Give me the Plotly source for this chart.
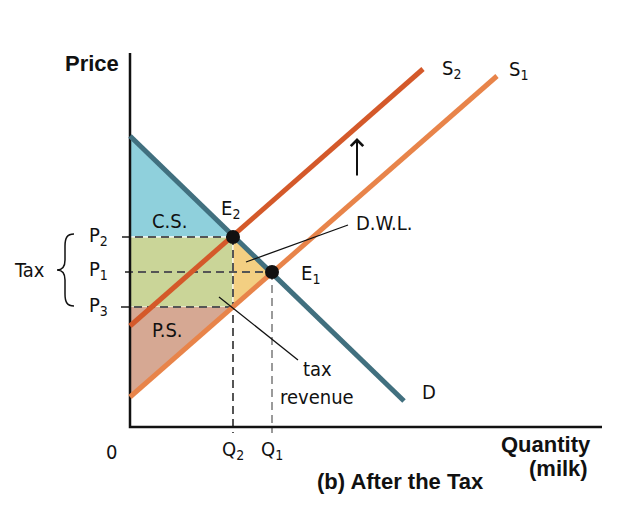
import plotly.graph_objects as go

# curves (quantity, price)
demand_q = [0, 27.4]
demand_p = [29.1, 2.6]
supply1_q = [0, 36.7]
supply1_p = [3.0, 35.1]
supply2_q = [0, 29.3]
supply2_p = [10.1, 35.8]

# equilibrium before / after the tax
q2, q1 = 10.3, 14.2
p2, p1, p3 = 19.0, 15.5, 12.0

x_axis_end = 47.2
y_axis_end = 37.4

cs_color = "#8fd0dc"
tax_color = "#cad598"
dwl_color = "#f3cf82"
ps_color = "#d6a893"
d_color = "#41707f"
s2_color = "#d4592a"
s1_color = "#e8844a"

reg = "DejaVu Sans Condensed, DejaVu Sans, sans-serif"
bold = "Liberation Sans, Arial, sans-serif"

fig = go.Figure()

# shaded areas
areas = [
    ([0, 0, q2], [demand_p[0], p2, p2], cs_color),            # consumer surplus
    ([0, q2, q2, 0], [p2, p2, p3, p3], tax_color),            # tax revenue
    ([q2, q2, q1], [p2, p3, p1], dwl_color),                  # deadweight loss
    ([0, 0, q2], [p3, supply1_p[0], p3], ps_color),           # producer surplus
]
for xs, ys, col in areas:
    fig.add_trace(go.Scatter(x=xs, y=ys, fill="toself", fillcolor=col, mode="lines",
                             line=dict(color="white", width=1), hoverinfo="skip"))

# dashed guide lines
dark = "#555555"
guides = [
    ([-0.8, q2], [p2, p2], dark),
    ([-0.5, q1], [p1, p1], dark),
    ([-0.9, q2], [p3, p3], dark),
    ([q2, q2], [p2, -0.6], dark),
    ([q1, q1], [p1, -0.6], "#9a9a9a"),
]
for xs, ys, col in guides:
    fig.add_trace(go.Scatter(x=xs, y=ys, mode="lines",
                             line=dict(color=col, width=2, dash="8px,5px"), hoverinfo="skip"))

# axes
fig.add_trace(go.Scatter(x=[0, 0, x_axis_end], y=[y_axis_end, 0, 0], mode="lines",
                         line=dict(color="#111111", width=2.5), hoverinfo="skip"))

# curves
fig.add_trace(go.Scatter(x=demand_q, y=demand_p, mode="lines", line=dict(color=d_color, width=5)))
fig.add_trace(go.Scatter(x=supply1_q, y=supply1_p, mode="lines", line=dict(color=s1_color, width=5)))
fig.add_trace(go.Scatter(x=supply2_q, y=supply2_p, mode="lines", line=dict(color=s2_color, width=5)))

# pointer lines
fig.add_trace(go.Scatter(x=[21.8, 11.6], y=[20.2, 16.5], mode="lines",
                         line=dict(color="#111111", width=1.3), hoverinfo="skip"))
fig.add_trace(go.Scatter(x=[8.9, 16.8], y=[13.0, 6.7], mode="lines",
                         line=dict(color="#111111", width=1.3), hoverinfo="skip"))

# equilibrium points
fig.add_trace(go.Scatter(x=[q2, q1], y=[p2, p1], mode="markers",
                         marker=dict(color="#111111", size=14)))

def label(x, y, text, xa="center", ya="middle", size=20, family=reg):
    fig.add_annotation(x=x, y=y, text=text, showarrow=False, xanchor=xa, yanchor=ya,
                       font=dict(family=family, size=size, color="#111111"))

label(-0.9, 36.4, "<b>Price</b>", xa="right", size=22, family=bold)
label(31.0, 35.8, "S<sub>2</sub>", xa="left")
label(37.7, 35.7, "S<sub>1</sub>", xa="left")
label(10.0, 21.8, "E<sub>2</sub>")
label(16.9, 15.3, "E<sub>1</sub>", xa="left")
label(3.9, 20.6, "C.S.")
label(3.7, 9.7, "P.S.")
label(22.4, 20.4, "D.W.L.", xa="left")
label(18.7, 4.4, "tax", ya="bottom")
label(18.7, 4.4, "revenue", ya="top")
label(29.0, 3.5, "D", xa="left")
label(-3.2, 19.1, "P<sub>2</sub>")
label(-3.2, 15.7, "P<sub>1</sub>")
label(-3.2, 12.1, "P<sub>3</sub>")
label(-10.1, 15.7, "Tax")
label(-1.9, -2.5, "0")
label(q2, -2.3, "Q<sub>2</sub>")
label(q1, -2.3, "Q<sub>1</sub>")
label(46.3, -1.7, "<b>Quantity</b>", xa="right", size=22, family=bold)
label(46.0, -4.1, "<b>(milk)</b>", xa="right", size=22, family=bold)
label(27.0, -5.4, "<b>(b) After the Tax</b>", size=22, family=bold)

# shift arrow
fig.add_annotation(x=22.7, y=28.9, ax=22.7, ay=25.0, axref="x", ayref="y", text="",
                   showarrow=True, arrowhead=4, arrowsize=1.2, arrowwidth=2, arrowcolor="#111111")

# tax brace
fig.add_shape(type="path", line=dict(color="#111111", width=1.5),
              path="M -5.6,19.3 C -6.3,19.3 -6.5,18.9 -6.5,18.1 L -6.5,16.7 "
                   "C -6.5,16.0 -6.8,15.7 -7.3,15.7 C -6.8,15.7 -6.5,15.4 -6.5,14.7 "
                   "L -6.5,13.3 C -6.5,12.5 -6.3,12.1 -5.6,12.1")

fig.update_xaxes(range=[-13.0, 49.4], visible=False)
fig.update_yaxes(range=[-8.5, 42.7], visible=False)
fig.update_layout(width=624, height=512, margin=dict(l=0, r=0, t=0, b=0),
                  plot_bgcolor="white", paper_bgcolor="white", showlegend=False,
                  autosize=False)

# page body has a default margin; drop it so the figure sits at the window corner
fig.write_html("out.html", config={"displayModeBar": False},
               post_script="document.body.style.margin='0';")
